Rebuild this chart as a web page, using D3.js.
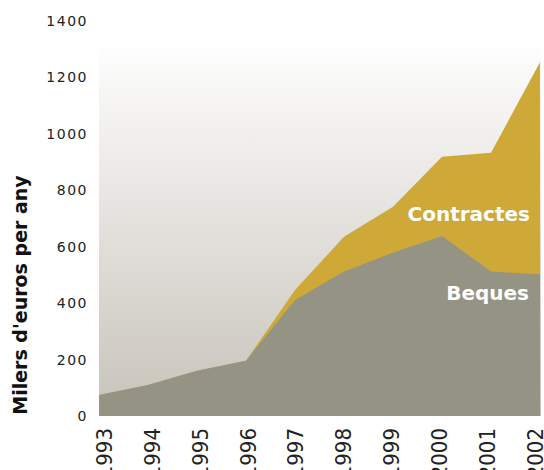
<!DOCTYPE html>
<html>
<head>
<meta charset="utf-8">
<script src="https://cdn.jsdelivr.net/npm/d3@7"></script>
<style>
  body { margin: 0; background: #fff; }
  svg { display: block; }
</style>
</head>
<body>
<div id="chart"></div>
<script>
var years = ["1993", "1994", "1995", "1996", "1997", "1998", "1999", "2000", "2001", "2002"];
var beques = [74, 110, 160, 196, 411, 512, 579, 638, 512, 502];
var contractes = [0, 0, 0, 0, 36, 123, 163, 281, 421, 752];
var yTicks = [0, 200, 400, 600, 800, 1000, 1200, 1400];

var width = 544, height = 470;
var mLeft = 99, mRight = 540, mTop = 21, mBottom = 416;

var svg = d3.select("#chart").append("svg")
    .attr("width", width)
    .attr("height", height);

var x = d3.scalePoint().domain(years).range([mLeft, mRight]);
var xLab = d3.scalePoint().domain(years).range([104, 535]);
var y = d3.scaleLinear().domain([0, 1400]).range([mBottom, mTop]);

// background gradient
var grad = svg.append("defs").append("linearGradient")
    .attr("id", "bg").attr("x1", 0).attr("y1", 0).attr("x2", 0).attr("y2", 1);
grad.append("stop").attr("offset", "0%").attr("stop-color", "#ffffff");
grad.append("stop").attr("offset", "45%").attr("stop-color", "#e6e4e0");
grad.append("stop").attr("offset", "100%").attr("stop-color", "#c7c3ba");

svg.append("rect")
    .attr("x", mLeft).attr("y", 38)
    .attr("width", mRight - mLeft + 1).attr("height", mBottom - 38)
    .attr("fill", "url(#bg)");

var rows = years.map(function (d, i) {
    return { year: d, b: beques[i], c: contractes[i] };
});

var areaTotal = d3.area()
    .x(function (d) { return x(d.year); })
    .y0(y(0))
    .y1(function (d) { return y(d.b + d.c); });

var areaB = d3.area()
    .x(function (d) { return x(d.year); })
    .y0(y(0))
    .y1(function (d) { return y(d.b); });

svg.append("path").datum(rows).attr("d", areaTotal).attr("fill", "#cea937");
svg.append("path").datum(rows).attr("d", areaB).attr("fill", "#959383");

// y axis labels
var yAxis = d3.axisLeft(y).tickValues(yTicks).tickFormat(d3.format("d"))
    .tickSize(0).tickPadding(0);
var gy = svg.append("g").attr("transform", "translate(88,0)").call(yAxis);
gy.select(".domain").remove();
gy.selectAll("text")
    .attr("font-family", "'DejaVu Sans', sans-serif")
    .attr("font-size", 14)
    .attr("letter-spacing", "1.5px")
    .attr("fill", "#222");

// x labels
svg.selectAll("text.xl")
    .data(years)
    .enter().append("text")
    .attr("class", "xl")
    .attr("transform", function (d) { return "translate(" + xLab(d) + ",428) rotate(-90)"; })
    .attr("text-anchor", "end")
    .attr("dy", "0.36em")
    .attr("font-family", "'Liberation Sans Narrow', 'DejaVu Sans Condensed', sans-serif")
    .attr("font-size", 22)
    .attr("fill", "#222")
    .text(function (d) { return d; });

// y title
svg.append("text")
    .attr("transform", "translate(27,295) rotate(-90)")
    .attr("text-anchor", "middle")
    .attr("font-family", "'DejaVu Sans', sans-serif")
    .attr("font-weight", "bold")
    .attr("font-size", 19)
    .attr("fill", "#111")
    .text("Milers d'euros per any");

// series labels
svg.append("text")
    .attr("x", 530).attr("y", 221)
    .attr("text-anchor", "end")
    .attr("font-family", "'DejaVu Sans', sans-serif")
    .attr("font-weight", "bold")
    .attr("font-size", 20)
    .attr("fill", "#fff")
    .text("Contractes");

svg.append("text")
    .attr("x", 529).attr("y", 300)
    .attr("text-anchor", "end")
    .attr("font-family", "'DejaVu Sans', sans-serif")
    .attr("font-weight", "bold")
    .attr("font-size", 20)
    .attr("fill", "#fff")
    .text("Beques");
</script>
</body>
</html>
